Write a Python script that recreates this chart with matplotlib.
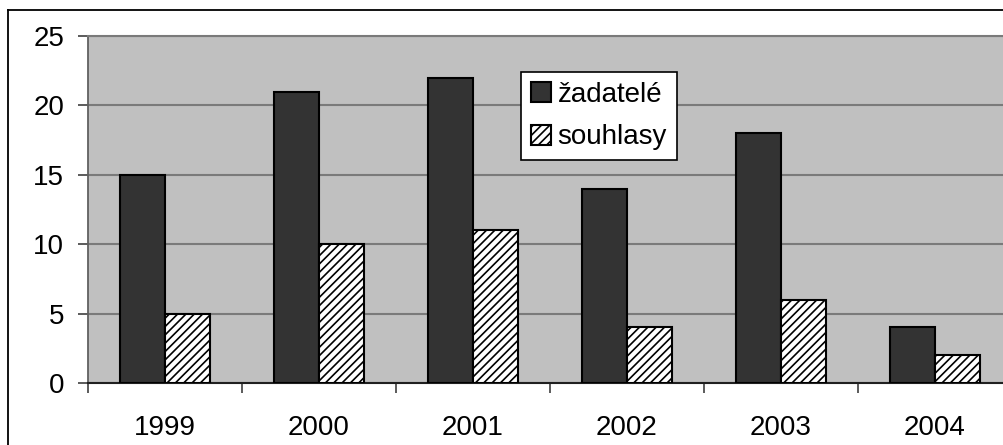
import matplotlib
matplotlib.use("Agg")
import matplotlib.pyplot as plt
from matplotlib.lines import Line2D
import numpy as np

years = ["1999", "2000", "2001", "2002", "2003", "2004"]
zadatele = [15, 21, 22, 14, 18, 4]
souhlasy = [5, 10, 11, 4, 6, 2]
series_names = ["žadatelé", "souhlasy"]
y_ticks = [0, 5, 10, 15, 20, 25]

plt.rcParams['font.family'] = ['Liberation Sans', 'DejaVu Sans']
plt.rcParams['hatch.linewidth'] = 1.2
plt.rcParams['hatch.color'] = 'black'

W, H = 1004, 445
fig = plt.figure(figsize=(W / 100, H / 100), dpi=100)
fig.patch.set_facecolor('white')

FS = 20

# outer chart border (extends beyond canvas on right/bottom)
fig.add_artist(Line2D([8 / W, 8 / W], [0, 1 - 10 / H], transform=fig.transFigure,
                      color='black', lw=1.3))
fig.add_artist(Line2D([8 / W, 1], [1 - 10 / H, 1 - 10 / H], transform=fig.transFigure,
                      color='black', lw=1.3))

left, right, top, bottom = 88, 1012, 36, 383
ax = fig.add_axes([left / W, 1 - bottom / H, (right - left) / W, (bottom - top) / H])
ax.set_facecolor('#c0c0c0')

x = np.arange(len(years))
bw = 45 / 154
ax.bar(x - bw / 2, zadatele, width=bw, color='#333333', edgecolor='black',
       linewidth=1.5, label=series_names[0], zorder=3)
ax.bar(x + bw / 2, souhlasy, width=bw, color='white', edgecolor='black',
       linewidth=1.5, hatch='////', label=series_names[1], zorder=3)

ax.set_xlim(-0.5, len(years) - 0.5)
ax.set_ylim(0, 25)
ax.set_yticks(y_ticks)
ax.set_yticklabels([str(v) for v in y_ticks])
ax.yaxis.grid(True, color='#7a7a7a', lw=1.5)
ax.set_axisbelow(True)

ax.set_xticks(x)
ax.set_xticklabels(years)
ax.set_xticks(np.arange(len(years) + 1) - 0.5, minor=True)
ax.tick_params(axis='x', which='major', length=0, pad=23, labelsize=FS)
ax.tick_params(axis='x', which='minor', length=7.2, width=1.2, color='#404040', direction='out')
ax.tick_params(axis='y', length=7.2, width=1.2, color='#404040', pad=10, labelsize=FS)

ax.spines['right'].set_visible(False)
ax.spines['top'].set_color('#7a7a7a')
ax.spines['top'].set_linewidth(1.5)
ax.spines['left'].set_color('#606060')
ax.spines['left'].set_linewidth(1.3)
ax.spines['bottom'].set_color('#202020')
ax.spines['bottom'].set_linewidth(1.5)

leg = ax.legend(loc='upper left', bbox_to_anchor=((521 - left) / (right - left), (bottom - 72) / (bottom - top)),
                borderaxespad=0, fontsize=FS, frameon=True, fancybox=False,
                edgecolor='black', framealpha=1, handlelength=0.72, handleheight=0.72,
                handletextpad=0.25, labelspacing=0.6, borderpad=0.35)
leg.get_frame().set_linewidth(1.2)

fig.savefig('out.png', dpi=100)
